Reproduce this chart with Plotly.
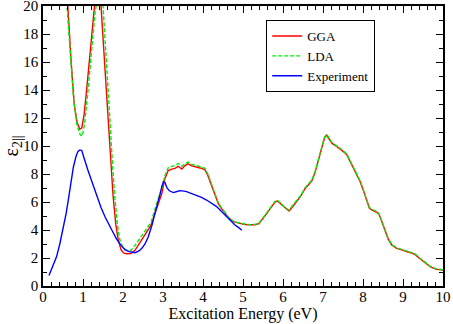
import plotly.graph_objects as go

# ---- data ----
gga_x = [0.55, 0.62, 0.7, 0.78, 0.85, 0.92, 0.97, 1.03, 1.1, 1.18, 1.28, 1.37, 1.45, 1.52, 1.6, 1.68,
         1.75, 1.82, 1.88, 1.95, 2.02, 2.1, 2.2, 2.3, 2.4, 2.5, 2.6, 2.7, 2.8, 2.9, 2.97, 3.05, 3.13,
         3.22, 3.3, 3.38, 3.47, 3.55, 3.63, 3.7, 3.8, 3.9, 3.97, 4.05, 4.12, 4.22, 4.3, 4.38, 4.47,
         4.55, 4.65, 4.76, 4.88, 5.0, 5.1, 5.2, 5.3, 5.4, 5.5, 5.6, 5.7, 5.8, 5.86, 5.95, 6.05, 6.15,
         6.25, 6.35, 6.45, 6.55, 6.65, 6.72, 6.8, 6.88, 6.97, 7.04, 7.09, 7.15, 7.22, 7.3, 7.4, 7.51,
         7.6, 7.68, 7.76, 7.85, 7.93, 8.0, 8.05, 8.1, 8.16, 8.24, 8.3, 8.36, 8.41, 8.48, 8.55, 8.63,
         8.72, 8.84, 8.95, 9.09, 9.2, 9.3, 9.4, 9.51, 9.6, 9.68, 9.76, 9.84, 9.92, 10.0]
gga_y = [22, 20, 16.2, 13, 11.7, 11.2, 11.3, 12.3, 14.3, 17, 20, 22.5, 20, 17, 13, 9.5,
         6.5, 4.4, 3.3, 2.6, 2.35, 2.3, 2.32, 2.55, 3.0, 3.45, 3.9, 4.35, 5.2, 6.1, 6.6, 7.7, 8.25,
         8.35, 8.4, 8.55, 8.35, 8.6, 8.72, 8.6, 8.5, 8.45, 8.4, 8.3, 7.9, 7.1, 6.4, 5.9, 5.5,
         5.2, 4.85, 4.6, 4.5, 4.42, 4.38, 4.36, 4.38, 4.45, 4.8, 5.2, 5.6, 6.0, 6.07, 5.85, 5.55, 5.36,
         5.7, 6.1, 6.45, 6.95, 7.3, 7.5, 8.1, 9.0, 9.95, 10.6, 10.78, 10.5, 10.2, 10.05, 9.85, 9.6,
         9.35, 8.9, 8.4, 7.9, 7.45, 6.9, 6.5, 6.0, 5.55, 5.4, 5.31, 5.25, 5.07, 4.5, 3.88, 3.35,
         2.93, 2.69, 2.6, 2.45, 2.38, 2.26, 2.0, 1.74, 1.55, 1.38, 1.27, 1.19, 1.17, 1.12]

lda_x = [0.55, 0.6, 0.68, 0.76, 0.85, 0.93, 0.98, 1.04, 1.12, 1.2, 1.3, 1.33, 1.42, 1.5, 1.57, 1.65,
         1.72, 1.79, 1.86, 1.92, 1.99, 2.05, 2.12, 2.2, 2.3, 2.4, 2.5, 2.6, 2.7, 2.8, 2.9, 2.97, 3.05,
         3.13, 3.22, 3.3, 3.38, 3.47, 3.55, 3.63, 3.7, 3.8, 3.9, 3.97, 4.05, 4.12, 4.22, 4.3, 4.38,
         4.47, 4.55, 4.65, 4.76, 4.88, 5.0, 5.1, 5.2, 5.3, 5.4, 5.5, 5.6, 5.7, 5.8, 5.86, 5.95, 6.05,
         6.15, 6.25, 6.35, 6.45, 6.55, 6.65, 6.72, 6.8, 6.88, 6.97, 7.04, 7.09, 7.15, 7.22, 7.3, 7.4,
         7.51, 7.6, 7.68, 7.76, 7.85, 7.93, 8.0, 8.05, 8.1, 8.16, 8.24, 8.3, 8.36, 8.41, 8.48, 8.55,
         8.63, 8.72, 8.84, 8.95, 9.09, 9.2, 9.3, 9.4, 9.51, 9.6, 9.68, 9.76, 9.84, 9.92, 10.0]
lda_y = [22, 20, 16.5, 13.5, 11.5, 10.8, 10.7, 11.6, 13.8, 16.5, 19.5, 20, 22.5, 20, 17, 13,
         9.5, 6.5, 4.4, 3.3, 2.8, 2.6, 2.52, 2.55, 2.9, 3.3, 3.7, 4.1, 4.55, 5.5, 6.4, 7.0, 7.9,
         8.45, 8.55, 8.6, 8.75, 8.55, 8.75, 8.85, 8.7, 8.6, 8.55, 8.5, 8.4, 8.0, 7.2, 6.45, 5.95,
         5.55, 5.2, 4.85, 4.6, 4.52, 4.45, 4.4, 4.38, 4.4, 4.48, 4.85, 5.25, 5.65, 6.05, 6.12, 5.9,
         5.6, 5.42, 5.75, 6.15, 6.5, 7.0, 7.35, 7.55, 8.15, 9.05, 10.0, 10.65, 10.85, 10.55, 10.25,
         10.1, 9.9, 9.65, 9.4, 8.95, 8.45, 7.95, 7.5, 6.95, 6.55, 6.05, 5.6, 5.45, 5.36, 5.3, 5.1,
         4.55, 3.92, 3.4, 2.98, 2.72, 2.63, 2.48, 2.4, 2.3, 2.04, 1.78, 1.6, 1.42, 1.3, 1.22, 1.2, 1.14]

exp_x = [0.15, 0.25, 0.34, 0.42, 0.51, 0.58, 0.63, 0.7, 0.76, 0.82, 0.87, 0.92, 0.97, 1.02, 1.07,
         1.12, 1.18, 1.25, 1.34, 1.45, 1.55, 1.63, 1.72, 1.84, 1.95, 2.05, 2.15, 2.3, 2.4, 2.47,
         2.55, 2.63, 2.72, 2.8, 2.87, 2.93, 2.97, 3.01, 3.05, 3.1, 3.16, 3.26, 3.35, 3.43, 3.52,
         3.59, 3.7, 3.84, 3.95, 4.09, 4.2, 4.34, 4.45, 4.59, 4.7, 4.8, 4.9, 4.97]
exp_y = [0.75, 1.4, 2.1, 3.0, 4.2, 5.2, 6.1, 7.4, 8.5, 9.2, 9.6, 9.72, 9.68, 9.2, 8.7,
         8.3, 7.8, 7.2, 6.4, 5.6, 4.95, 4.45, 4.0, 3.35, 2.9, 2.6, 2.45, 2.38, 2.5, 2.69,
         3.0, 3.5, 4.3, 5.2, 5.9, 6.6, 7.1, 7.45, 7.4, 7.0, 6.8, 6.67, 6.75, 6.81, 6.78,
         6.74, 6.62, 6.5, 6.35, 6.14, 5.95, 5.67, 5.35, 4.95, 4.62, 4.36, 4.15, 3.98]

series_names = ["GGA", "LDA", "Experiment"]
x_tick_vals = list(range(0, 11))
y_tick_vals = list(range(0, 21, 2))

FONT = "Liberation Serif"

fig = go.Figure()
fig.add_trace(go.Scatter(x=gga_x, y=gga_y, mode="lines", name=series_names[0],
                         line=dict(color="#ff0000", width=1.4)))
fig.add_trace(go.Scatter(x=lda_x, y=lda_y, mode="lines", name=series_names[1],
                         line=dict(color="#00ee00", width=1.4, dash="4px,2px")))
fig.add_trace(go.Scatter(x=exp_x, y=exp_y, mode="lines", name=series_names[2],
                         line=dict(color="#0000ff", width=1.4)))

axis_common = dict(showline=True, linecolor="black", linewidth=1.5, mirror="ticks",
                   ticks="inside", ticklen=7, tickwidth=1, tickcolor="black",
                   showgrid=False, zeroline=False, ticklabeloverflow="allow",
                   automargin=True,
                   tickfont=dict(family=FONT, size=15, color="black"))

fig.update_xaxes(range=[0, 10], tickvals=x_tick_vals, ticklabelstandoff=-4,
                 minor=dict(dtick=0.2, ticks="inside", ticklen=4, tickcolor="black", showgrid=False),
                 title=dict(text="Excitation Energy (eV)", font=dict(family=FONT, size=16, color="black"),
                            standoff=0),
                 **axis_common)
fig.update_yaxes(range=[0, 20], tickvals=y_tick_vals,
                 minor=dict(dtick=1, ticks="inside", ticklen=4, tickcolor="black", showgrid=False),
                 title=dict(text="ε<sub>2||</sub>", font=dict(family=FONT, size=20, color="black"),
                            standoff=4),
                 **axis_common)

fig.update_layout(
    width=453, height=324,
    margin=dict(l=43, r=10, t=6, b=38, autoexpand=False),
    font=dict(family=FONT, color="black"),
    plot_bgcolor="white", paper_bgcolor="white",
    legend=dict(x=0.558, y=0.95, xanchor="left", yanchor="top",
                bordercolor="black", borderwidth=1, bgcolor="white",
                font=dict(family=FONT, size=13, color="black"),
                tracegroupgap=0, itemwidth=30),
)

fig.write_html("out.html", config={"displayModeBar": False},
               post_script="document.body.style.margin='0';document.body.style.overflow='hidden';")
